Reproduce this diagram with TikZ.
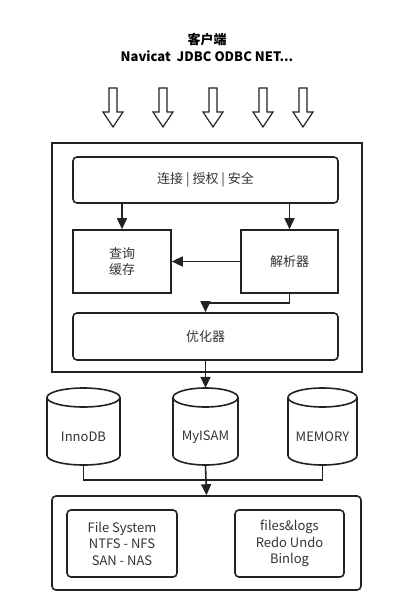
\documentclass[tikz,border=0pt]{standalone}
\usepackage{fontspec}
\setmainfont{Noto Sans CJK SC}
\usetikzlibrary{arrows.meta}
\definecolor{linec}{HTML}{222222}
\definecolor{txt}{HTML}{333333}
\tikzset{
  box/.style={draw=linec,line width=1.6pt,text=txt,font=\fontsize{13}{16.5}\selectfont,align=center,inner sep=0pt},
  rbox/.style={box,rounded corners=4pt},
  dbtext/.style={text=txt,font=\fontsize{13}{16}\selectfont},
  link/.style={draw=linec,line width=1.6pt},
  flow/.style={link,-{Triangle[length=11pt,width=10pt]}}
}
\begin{document}
\begin{tikzpicture}[x=1pt,y=-1pt]
\useasboundingbox (0,0) rectangle (409,616);
\node[font=\bfseries\fontsize{13}{17}\selectfont,align=center] (client) at (207,47) {客户端\\Navicat\ \ JDBC ODBC NET...};
\foreach \x in {113,163,213,263,303}
  \draw[linec,line width=1.2pt] ({\x-4},88) -- ({\x+4},88) -- ({\x+4},112) -- ({\x+10},112) -- (\x,127) -- ({\x-10},112) -- ({\x-4},112) -- cycle;

\node[box,minimum width=310pt,minimum height=229pt] (server) at (207,257.5) {};
\node[rbox,minimum width=265pt,minimum height=46pt] (conn) at (205.5,180) {连接 | 授权 | 安全};
\node[box,minimum width=98pt,minimum height=63pt] (cache) at (122,261.5) {查询\\缓存};
\node[box,minimum width=97pt,minimum height=63pt] (parser) at (289.5,261.5) {解析器};
\node[rbox,minimum width=265pt,minimum height=47pt] (optim) at (205.5,336.5) {优化器};
\draw[flow] (cache.north |- conn.south) -- (cache.north);
\draw[flow] (parser.north |- conn.south) -- (parser.north);
\draw[flow] (parser.west) -- (cache.east);
\draw[flow] (parser.south) -- ++(0,9) -| (optim.north);

% storage engines
\foreach \cx/\rx/\nm/\lbl in {83.5/36.5/innodb/InnoDB,205.5/32.5/myisam/MyISAM,322.5/34.5/memory/MEMORY} {
  \node[minimum width={2*\rx},minimum height=77pt,inner sep=0pt] (\nm) at (\cx,426.5) {};
  \draw[link] ({\cx-\rx},397.5) -- ({\cx-\rx},455.5) arc[start angle=180,end angle=0,x radius=\rx,y radius=9.5] -- ({\cx+\rx},397.5);
  \draw[link] (\cx,397.5) ellipse[x radius=\rx,y radius=9.5];
  \node[dbtext] (\nm text) at (\cx,437) {\lbl};
}
\draw[flow] (optim.south) -- (myisam.north);

\node[rbox,minimum width=309pt,minimum height=94pt] (storage) at (206.5,543) {};
\node[rbox,minimum width=110pt,minimum height=67pt] (fs) at (122,543.5) {File System\\NTFS - NFS\\SAN - NAS};
\node[rbox,minimum width=109pt,minimum height=67pt] (logs) at (289.5,543.5) {files\&logs\\Redo Undo\\Binlog};
\coordinate (join) at (206,480);
\draw[link] (innodb.south) |- (join) -| (memory.south);
\draw[flow] (myisam.south) -- (storage.north);
\end{tikzpicture}
\end{document}
